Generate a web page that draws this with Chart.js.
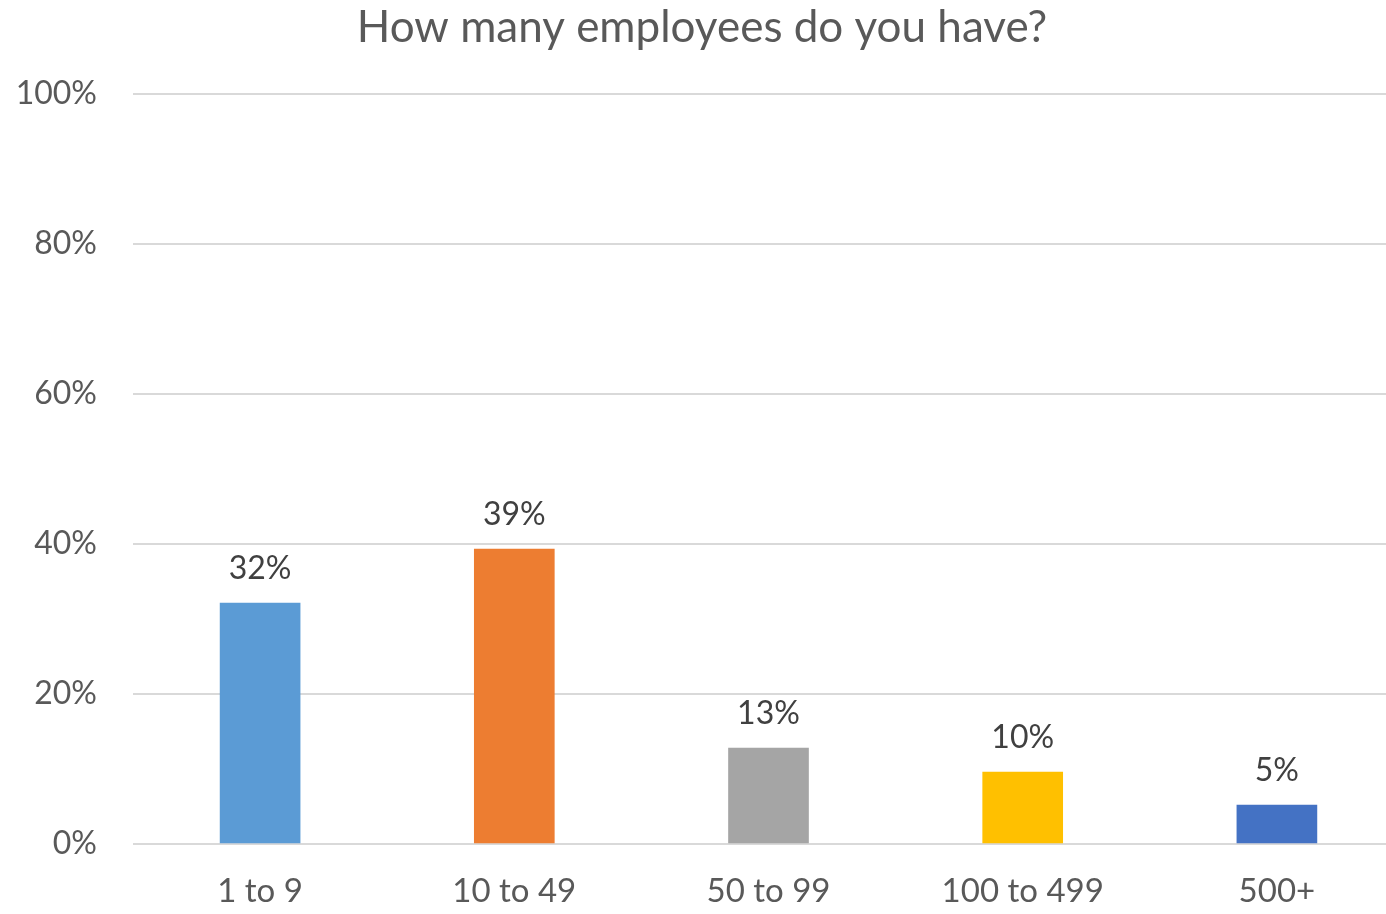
<!DOCTYPE html>
<html lang="en">
<head>
  <meta charset="UTF-8">
  <title>How many employees do you have?</title>
  <script src="https://cdn.jsdelivr.net/npm/chart.js"></script>
  <style>
    html, body {
      margin: 0;
      padding: 0;
      background: #fff;
      overflow: hidden;
    }
    .chart-box {
      position: relative;
      width: 1404px;
      height: 914px;
    }
  </style>
</head>
<body>
  <div class="chart-box">
    <canvas id="employeesChart"></canvas>
  </div>

  <script>
    const categories = ['1 to 9', '10 to 49', '50 to 99', '100 to 499', '500+'];
    const shares = [32.1, 39.3, 12.8, 9.6, 5.2];
    const shareLabels = ['32%', '39%', '13%', '10%', '5%'];
    const yTicks = [0, 20, 40, 60, 80, 100];
    const barColors = ['#5B9BD5', '#ED7D31', '#A5A5A5', '#FFC000', '#4472C4'];

    const fontFamily = 'Lato, "Open Sans", sans-serif';

    // draw the value above each bar
    const valueLabels = {
      id: 'valueLabels',
      afterDatasetsDraw(chart) {
        const ctx = chart.ctx;
        const meta = chart.getDatasetMeta(0);
        ctx.save();
        ctx.font = '32px ' + fontFamily;
        ctx.fillStyle = '#404040';
        ctx.textAlign = 'center';
        ctx.textBaseline = 'middle';
        meta.data.forEach((bar, i) => {
          ctx.fillText(shareLabels[i], bar.x, bar.y - 34);
        });
        ctx.restore();
      }
    };

    const ctx = document.getElementById('employeesChart').getContext('2d');
    new Chart(ctx, {
      type: 'bar',
      data: {
        labels: categories,
        datasets: [{
          label: 'Employees',
          data: shares,
          backgroundColor: barColors,
          borderWidth: 0,
          barThickness: 80
        }]
      },
      options: {
        responsive: true,
        maintainAspectRatio: false,
        animation: false,
        layout: { padding: 0 },
        plugins: {
          legend: { display: false },
          tooltip: { enabled: false },
          title: {
            display: true,
            text: 'How many employees do you have?',
            color: '#595959',
            font: { family: fontFamily, size: 44, weight: 'normal' },
            padding: { top: 1, bottom: 40 }
          }
        },
        scales: {
          x: {
            grid: { display: false, drawTicks: false },
            border: { display: false },
            ticks: {
              color: '#595959',
              font: { family: fontFamily, size: 33 },
              padding: 28,
              maxRotation: 0
            },
            afterFit(scale) { scale.height = 70; }
          },
          y: {
            min: 0,
            max: 100,
            afterBuildTicks(scale) {
              scale.ticks = yTicks.map(v => ({ value: v }));
            },
            grid: { color: '#D9D9D9', lineWidth: 2, drawTicks: false },
            border: { display: false },
            ticks: {
              color: '#595959',
              font: { family: fontFamily, size: 32 },
              padding: 36,
              callback: v => v + '%'
            },
            afterFit(scale) { scale.width = 133; }
          }
        }
      },
      plugins: [valueLabels]
    });
  </script>
</body>
</html>
